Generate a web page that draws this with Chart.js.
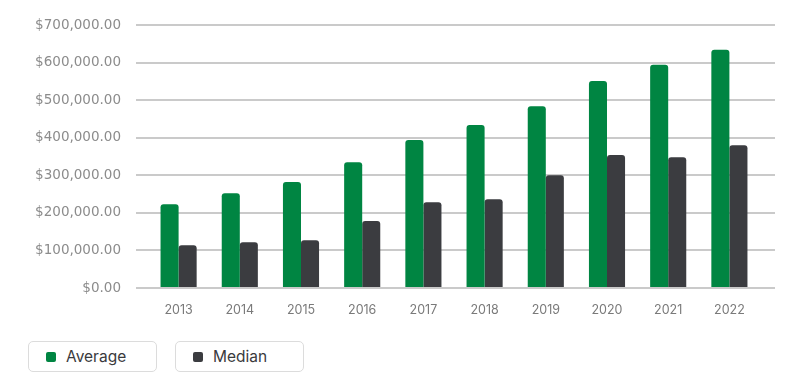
<!DOCTYPE html>
<html>
<head>
<meta charset="utf-8">
<script src="https://cdn.jsdelivr.net/npm/chart.js@4.4.1/dist/chart.umd.min.js"></script>
<style>
  html, body { margin: 0; padding: 0; background: #fff; }
  body { width: 800px; height: 387px; position: relative; overflow: hidden; font-family: Inter, "Noto Sans", sans-serif; }
  #wrap { position: absolute; left: 0; top: 0; width: 800px; height: 330px; }
  #legend { position: absolute; left: 28px; top: 341px; display: flex; gap: 18px; }
  .item { box-sizing: border-box; width: 129px; height: 31px; border: 1px solid #dcdcdc; border-radius: 5px;
          display: flex; align-items: center; padding-left: 17px; font-size: 15.5px; color: #3a3a3d; }
  .swatch { width: 10px; height: 10px; border-radius: 2px; margin-right: 10px; }
</style>
</head>
<body>
<div id="wrap"><canvas id="chart"></canvas></div>
<div id="legend"></div>
<script>
/* Average vs median — yearly bars */

const years = ['2013', '2014', '2015', '2016', '2017', '2018', '2019', '2020', '2021', '2022'];
const averageValues = [223000, 252000, 282000, 335000, 394000, 434000, 484000, 551000, 594000, 634000];
const medianValues = [114000, 122000, 127000, 178000, 228000, 236000, 300000, 354000, 348000, 380000];
const seriesNames = ['Average', 'Median'];
const seriesColors = ['#008542', '#3b3c40'];
const yTickValues = [0, 100000, 200000, 300000, 400000, 500000, 600000, 700000];

(function () {
    const gridColor = '#cacaca';
    const money = new Intl.NumberFormat('en-US', { style: 'currency', currency: 'USD', minimumFractionDigits: 2 });

    // y grid lines run a bit past the right edge of the bars area
    const gridExtend = {
        id: 'gridExtend',
        beforeDatasetsDraw(chart) {
            const ctx = chart.ctx;
            const y = chart.scales.y;
            ctx.save();
            ctx.strokeStyle = gridColor;
            ctx.lineWidth = 2;
            y.ticks.forEach(function (t) {
                const py = Math.round(y.getPixelForValue(t.value));
                ctx.beginPath();
                ctx.moveTo(chart.chartArea.right - 1, py);
                ctx.lineTo(775, py);
                ctx.stroke();
            });
            ctx.restore();
        },
    };

    const datasets = [averageValues, medianValues].map(function (vals, i) {
        return {
            label: seriesNames[i],
            data: vals,
            backgroundColor: seriesColors[i],
            borderRadius: 3,
            categoryPercentage: 0.59,
            barPercentage: 1.0,
        };
    });

    new Chart(document.getElementById('chart'), {
        type: 'bar',
        data: { labels: years, datasets: datasets },
        plugins: [gridExtend],
        options: {
            responsive: true,
            maintainAspectRatio: false,
            animation: false,
            layout: { padding: { top: 25, right: 40, left: 0, bottom: 0 } },
            plugins: { legend: { display: false }, tooltip: { enabled: false } },
            scales: {
                x: {
                    grid: { display: false, drawTicks: false },
                    border: { display: false },
                    ticks: { color: '#7a7a7a', padding: 15, font: { family: 'Inter', size: 12.5 } },
                    afterFit: function (s) { s.height = 42; },
                },
                y: {
                    min: 0,
                    max: 700000,
                    border: { display: false },
                    grid: { color: gridColor, lineWidth: 2, tickLength: 12 },
                    afterBuildTicks: function (s) { s.ticks = yTickValues.map(function (v) { return { value: v }; }); },
                    ticks: {
                        color: '#8c8c8c',
                        padding: 15,
                        font: { family: 'DejaVu Sans', size: 13.5 },
                        callback: function (v) { return money.format(v); },
                    },
                    afterFit: function (s) { s.width = 148; },
                },
            },
        },
    });

    const legend = document.getElementById('legend');
    seriesNames.forEach(function (name, i) {
        const item = document.createElement('div');
        item.className = 'item';
        const sw = document.createElement('span');
        sw.className = 'swatch';
        sw.style.background = seriesColors[i];
        item.appendChild(sw);
        item.appendChild(document.createTextNode(name));
        legend.appendChild(item);
    });
})();
</script>
</body>
</html>
